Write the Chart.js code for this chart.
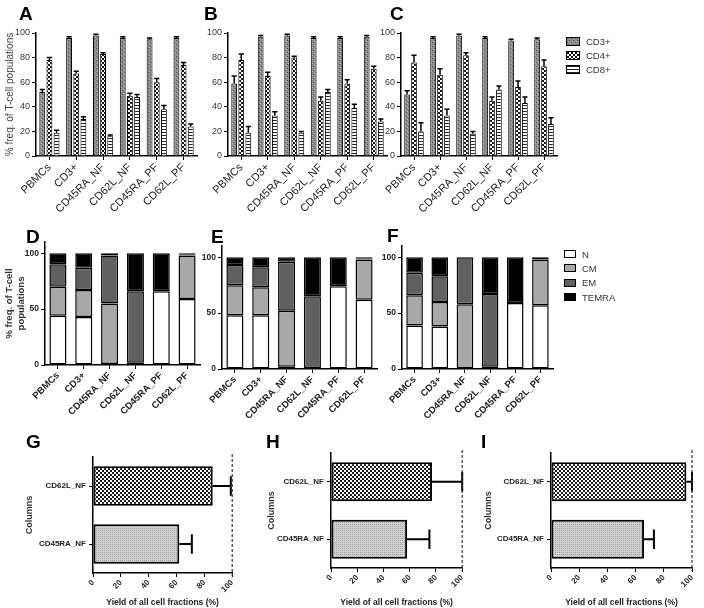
<!DOCTYPE html>
<html>
<head>
<meta charset="utf-8">
<script src="https://cdn.jsdelivr.net/npm/chart.js@4.4.1/dist/chart.umd.min.js"></script>
<style>
body { margin: 0; background: #fff; width: 704px; height: 608px; position: relative; overflow: hidden;
       font-family: "Liberation Sans", Arial, sans-serif; }
canvas.panel { position: absolute; }
.letter { position: absolute; font-weight: bold; font-size: 19px; line-height: 1; color: #000; }
.legend { position: absolute; font-size: 9.5px; color: #333; }
.legend div { display: flex; align-items: center; }
.legend canvas { border: 1px solid #000; margin-right: 6px; }
</style>
</head>
<body>
<script>
// categories
const cellGroups = ['PBMCs', 'CD3+', 'CD45RA_NF', 'CD62L_NF', 'CD45RA_PF', 'CD62L_PF'];
const subsetNames = ['CD3+', 'CD4+', 'CD8+'];
const memoryNames = ['N', 'CM', 'EM', 'TEMRA'];
const yieldGroups = ['CD62L_NF', 'CD45RA_NF'];

// A-C: % of T-cell subsets (mean, error)
const aCD3 = [52, 96, 98, 96, 95, 96];  const aCD3Err = [2, 1, 1, 1, 1, 1];
const aCD4 = [78, 67, 83, 49, 60, 74];  const aCD4Err = [2, 2, 1, 2, 3, 2];
const aCD8 = [19, 30, 16, 48, 38, 24];  const aCD8Err = [2, 2, 1, 2, 3, 2];

const bCD3 = [59, 97, 98, 96, 96, 97];  const bCD3Err = [6, 1, 1, 1, 1, 1];
const bCD4 = [78, 65, 80, 45, 59, 71];  const bCD4Err = [5, 3, 1, 3, 3, 2];
const bCD8 = [19, 33, 19, 52, 39, 28];  const bCD8Err = [5, 3, 1, 2, 3, 2];

const cCD3 = [50, 96, 98, 96, 94, 95];  const cCD3Err = [3, 1, 1, 1, 1, 1];
const cCD4 = [76, 66, 82, 45, 56, 73];  const cCD4Err = [6, 5, 2, 3, 5, 5];
const cCD8 = [20, 33, 18, 54, 43, 26];  const cCD8Err = [7, 5, 2, 3, 5, 5];

// D-F: memory phenotype (stacked %)
const dN = [44, 43, 1, 0.5, 66, 59];
const dCM = [26, 24, 54, 1.5, 0, 39];
const dEM = [20, 20, 43, 64, 0, 1];
const dTEMRA = [10, 13, 2, 34, 34, 1];

const eN = [48, 48, 2, 0, 74, 62];
const eCM = [27, 25, 50, 1, 0, 36];
const eEM = [18, 18, 44, 64, 0, 0.5];
const eTEMRA = [7, 9, 4, 35, 26, 1.5];

const fN = [39, 38, 0, 0, 59, 57];
const fCM = [27, 22, 58, 2, 0, 41];
const fEM = [20, 23, 42, 65, 0, 0];
const fTEMRA = [14, 17, 0, 33, 41, 2];

// G-I: yield of cell fractions
const gYield = [86, 62];  const gYieldErr = [13, 9];
const hYield = [77, 58];  const hYieldErr = [23, 17];
const iYield = [96, 66];  const iYieldErr = [4, 7];
const fullYield = 100;

const freqTicks = [0, 20, 40, 60, 80, 100];
const stackTicks = [0, 50, 100];

Chart.defaults.font.family = '"Liberation Sans", Arial, sans-serif';
Chart.defaults.color = '#333';
Chart.defaults.animation = false;

function makePattern(w, h, draw) {
    const c = document.createElement('canvas');
    c.width = w; c.height = h;
    const g = c.getContext('2d');
    draw(g);
    return g.createPattern(c, 'repeat');
}

const cd3Fill = makePattern(4, 4, g => {
    g.fillStyle = '#8a8a8a'; g.fillRect(0, 0, 4, 4);
    g.fillStyle = '#555'; g.fillRect(0, 0, 1, 1); g.fillRect(2, 2, 1, 1);
    g.fillStyle = '#b5b5b5'; g.fillRect(1, 3, 1, 1); g.fillRect(3, 1, 1, 1);
});
const cd4Fill = makePattern(4, 4, g => {
    g.fillStyle = '#fff'; g.fillRect(0, 0, 4, 4);
    g.fillStyle = '#111'; g.fillRect(0, 0, 2, 2); g.fillRect(2, 2, 2, 2);
});
const cd8Fill = makePattern(1, 3, g => {
    g.fillStyle = '#fff'; g.fillRect(0, 0, 1, 3);
    g.fillStyle = '#222'; g.fillRect(0, 0, 1, 1);
});
const nfFill = makePattern(4, 4, g => {
    g.fillStyle = '#fff'; g.fillRect(0, 0, 4, 4);
    g.fillStyle = '#1a1a1a'; g.fillRect(0, 0, 2, 2); g.fillRect(2, 2, 2, 2);
});
const raFill = makePattern(2, 2, g => {
    g.fillStyle = '#d0d0d0'; g.fillRect(0, 0, 2, 2);
    g.fillStyle = '#a4a4a4'; g.fillRect(0, 0, 1, 1);
});
const subsetFills = [cd3Fill, cd4Fill, cd8Fill];
const memoryFills = ['#ffffff', '#a8a8a8', '#606060', '#000000'];

const errorBars = {
    id: 'errorBars',
    afterDatasetsDraw(chart) {
        const ctx = chart.ctx;
        const horizontal = chart.options.indexAxis === 'y';
        const vScale = horizontal ? chart.scales.x : chart.scales.y;
        chart.data.datasets.forEach((ds, di) => {
            if (!ds.errors) return;
            chart.getDatasetMeta(di).data.forEach((bar, i) => {
                const tip = vScale.getPixelForValue(Math.min(ds.data[i] + ds.errors[i], vScale.max));
                ctx.save();
                ctx.strokeStyle = '#000';
                ctx.lineWidth = ds.errorWidth || 1.5;
                ctx.beginPath();
                if (horizontal) {
                    const cap = bar.height * 0.25;
                    ctx.moveTo(bar.x, bar.y); ctx.lineTo(tip, bar.y);
                    ctx.moveTo(tip, bar.y - cap); ctx.lineTo(tip, bar.y + cap);
                } else {
                    const cap = bar.width * 0.45;
                    ctx.moveTo(bar.x, bar.y); ctx.lineTo(bar.x, tip);
                    ctx.moveTo(bar.x - cap, tip); ctx.lineTo(bar.x + cap, tip);
                }
                ctx.stroke();
                ctx.restore();
            });
        });
    }
};

const limitLine = {
    id: 'limitLine',
    afterDraw(chart, args, opts) {
        if (opts.value == null) return;
        const ctx = chart.ctx;
        const x = chart.scales.x.getPixelForValue(opts.value);
        ctx.save();
        ctx.strokeStyle = '#333';
        ctx.lineWidth = 1.2;
        ctx.setLineDash([3, 2]);
        ctx.beginPath();
        ctx.moveTo(x, chart.chartArea.top - 3);
        ctx.lineTo(x, chart.chartArea.bottom + 3);
        ctx.stroke();
        ctx.restore();
    }
};

function addCanvas(cv) {
    const c = document.createElement('canvas');
    c.width = cv.w; c.height = cv.h;
    c.className = 'panel';
    c.style.left = cv.left + 'px';
    c.style.top = cv.top + 'px';
    document.body.appendChild(c);
    return c;
}

// padding and axis sizes so the plot area lands on the wanted page box
function frame(cv, area, padLeft) {
    return {
        padding: { left: padLeft, top: area.top - cv.top, right: cv.left + cv.w - area.right, bottom: 0 },
        yw: area.left - cv.left - padLeft,
        xh: cv.top + cv.h - area.bottom
    };
}

function axisLine() {
    return { display: true, color: '#000', width: 1.5 };
}

function groupedPanel(cv, area, values, errors, yTitle) {
    const f = frame(cv, area, 0);
    new Chart(addCanvas(cv), {
        type: 'bar',
        data: {
            labels: cellGroups,
            datasets: subsetNames.map((name, k) => ({
                label: name,
                data: values[k],
                errors: errors[k],
                backgroundColor: subsetFills[k],
                borderColor: '#000',
                borderWidth: 1,
                categoryPercentage: 0.8,
                barPercentage: 0.82
            }))
        },
        options: {
            responsive: false,
            layout: { padding: f.padding },
            plugins: { legend: { display: false }, tooltip: { enabled: false } },
            scales: {
                x: {
                    border: axisLine(),
                    grid: { drawOnChartArea: false, offset: false, color: '#000', tickLength: 4 },
                    ticks: { autoSkip: false, minRotation: 45, maxRotation: 45, padding: 1,
                             color: '#222', font: { size: 11 } },
                    afterFit: s => { s.height = f.xh; }
                },
                y: {
                    min: 0, max: 100,
                    border: axisLine(),
                    grid: { drawOnChartArea: false, color: '#000', tickLength: 4 },
                    afterBuildTicks: s => { s.ticks = freqTicks.map(v => ({ value: v })); },
                    ticks: { padding: 2, color: '#333', font: { size: 9 } },
                    title: { display: !!yTitle, text: yTitle || '', color: '#444', font: { size: 10 },
                             padding: { top: 4, bottom: 0 } },
                    afterFit: s => { s.width = f.yw; }
                }
            }
        },
        plugins: [errorBars]
    });
}

function stackedPanel(cv, area, values, yTitle) {
    const f = frame(cv, area, 0);
    new Chart(addCanvas(cv), {
        type: 'bar',
        data: {
            labels: cellGroups,
            datasets: memoryNames.map((name, k) => ({
                label: name,
                data: values[k],
                backgroundColor: memoryFills[k],
                borderColor: '#000',
                borderWidth: 1.5,
                borderSkipped: false,
                categoryPercentage: 1,
                barPercentage: 0.66
            }))
        },
        options: {
            responsive: false,
            layout: { padding: f.padding },
            plugins: { legend: { display: false }, tooltip: { enabled: false } },
            scales: {
                x: {
                    stacked: true,
                    border: axisLine(),
                    grid: { drawOnChartArea: false, offset: false, color: '#000', tickLength: 4 },
                    ticks: { autoSkip: false, minRotation: 45, maxRotation: 45, padding: 1,
                             color: '#222', font: { size: 9.5, weight: 'bold' } },
                    afterFit: s => { s.height = f.xh; }
                },
                y: {
                    stacked: true,
                    min: 0, max: 110,
                    border: axisLine(),
                    grid: { drawOnChartArea: false, color: '#000', tickLength: 4 },
                    afterBuildTicks: s => { s.ticks = stackTicks.map(v => ({ value: v })); },
                    ticks: { padding: 2, color: '#222', font: { size: 8.5, weight: 'bold' } },
                    title: { display: !!yTitle, text: yTitle || '', color: '#333',
                             font: { size: 9.5, weight: 'bold' }, padding: { top: 4, bottom: 0 } },
                    afterFit: s => { s.width = f.yw; }
                }
            }
        }
    });
}

function yieldPanel(cv, area, padLeft, values, errors) {
    const f = frame(cv, area, padLeft);
    new Chart(addCanvas(cv), {
        type: 'bar',
        data: {
            labels: yieldGroups,
            datasets: [{
                data: values,
                errors: errors,
                errorWidth: 2,
                backgroundColor: [nfFill, raFill],
                borderColor: '#000',
                borderWidth: 2,
                borderSkipped: false,
                categoryPercentage: 1,
                barPercentage: 0.68
            }]
        },
        options: {
            indexAxis: 'y',
            responsive: false,
            layout: { padding: f.padding },
            plugins: { legend: { display: false }, tooltip: { enabled: false },
                       limitLine: { value: fullYield } },
            scales: {
                x: {
                    min: 0, max: 100,
                    border: axisLine(),
                    grid: { drawOnChartArea: false, color: '#000', tickLength: 4 },
                    ticks: { stepSize: 20, minRotation: 45, maxRotation: 45, padding: 1,
                             color: '#222', font: { size: 8, weight: 'bold' } },
                    title: { display: true, text: 'Yield of all cell fractions (%)', color: '#222',
                             font: { size: 8.5, weight: 'bold' }, padding: { top: 2, bottom: 0 } },
                    afterFit: s => { s.height = f.xh; }
                },
                y: {
                    border: axisLine(),
                    grid: { drawOnChartArea: false, offset: false, color: '#000', tickLength: 4 },
                    ticks: { padding: 3, color: '#222', font: { size: 8, weight: 'bold' } },
                    title: { display: true, text: 'Columns', color: '#333',
                             font: { size: 9, weight: 'bold' }, padding: { top: 4, bottom: 0 } },
                    afterFit: s => { s.width = f.yw; }
                }
            }
        },
        plugins: [errorBars, limitLine]
    });
}

groupedPanel({ left: 0, top: 0, w: 225, h: 225 }, { left: 36, right: 197, top: 33, bottom: 156 },
    [aCD3, aCD4, aCD8], [aCD3Err, aCD4Err, aCD8Err], '% freq. of T-cell populations');
groupedPanel({ left: 195, top: 0, w: 200, h: 225 }, { left: 228, right: 387, top: 33, bottom: 156 },
    [bCD3, bCD4, bCD8], [bCD3Err, bCD4Err, bCD8Err]);
groupedPanel({ left: 370, top: 0, w: 195, h: 225 }, { left: 401, right: 557, top: 33, bottom: 156 },
    [cCD3, cCD4, cCD8], [cCD3Err, cCD4Err, cCD8Err]);

stackedPanel({ left: 0, top: 225, w: 210, h: 195 }, { left: 45, right: 200, top: 242, bottom: 365 },
    [dN, dCM, dEM, dTEMRA], ['% freq. of T-cell', 'populations']);
stackedPanel({ left: 190, top: 225, w: 195, h: 195 }, { left: 222, right: 377, top: 246, bottom: 369 },
    [eN, eCM, eEM, eTEMRA]);
stackedPanel({ left: 370, top: 225, w: 190, h: 195 }, { left: 402, right: 553, top: 246, bottom: 369 },
    [fN, fCM, fEM, fTEMRA]);

yieldPanel({ left: 0, top: 420, w: 240, h: 188 }, { left: 93, right: 234, top: 457, bottom: 573 }, 20,
    gYield, gYieldErr);
yieldPanel({ left: 240, top: 420, w: 230, h: 188 }, { left: 331, right: 463, top: 453, bottom: 568 }, 22,
    hYield, hYieldErr);
yieldPanel({ left: 465, top: 420, w: 239, h: 188 }, { left: 551, right: 692, top: 453, bottom: 568 }, 14,
    iYield, iYieldErr);

// panel letters
[['A', 19, 4], ['B', 204, 4], ['C', 390, 4], ['D', 26, 227], ['E', 211, 227], ['F', 387, 226],
 ['G', 26, 432], ['H', 266, 432], ['I', 481, 432]].forEach(([t, x, y]) => {
    const d = document.createElement('div');
    d.className = 'letter';
    d.textContent = t;
    d.style.left = x + 'px';
    d.style.top = y + 'px';
    document.body.appendChild(d);
});

function legendBox(left, top, rowH, names, fills, sw, sh) {
    const box = document.createElement('div');
    box.className = 'legend';
    box.style.left = left + 'px';
    box.style.top = top + 'px';
    names.forEach((name, k) => {
        const row = document.createElement('div');
        row.style.height = rowH + 'px';
        const c = document.createElement('canvas');
        c.width = sw; c.height = sh;
        const g = c.getContext('2d');
        g.fillStyle = fills[k];
        g.fillRect(0, 0, sw, sh);
        row.appendChild(c);
        const s = document.createElement('span');
        s.textContent = name;
        row.appendChild(s);
        box.appendChild(row);
    });
    document.body.appendChild(box);
}
legendBox(566, 34, 14, subsetNames, subsetFills, 12, 7);
legendBox(564, 247, 14.3, memoryNames, memoryFills, 10, 6);
</script>
</body>
</html>
